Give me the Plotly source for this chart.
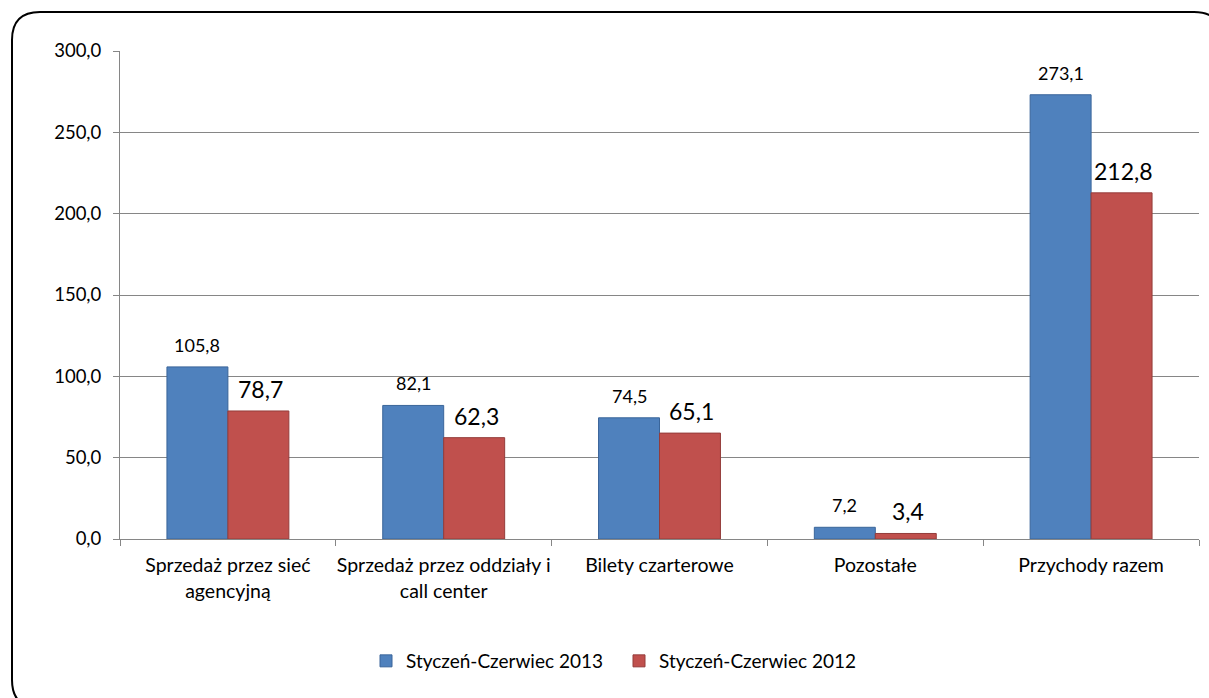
import plotly.graph_objects as go

categories = ["Sprzedaż przez sieć<br>agencyjną", "Sprzedaż przez oddziały i<br>call center",
              "Bilety czarterowe", "Pozostałe", "Przychody razem"]
series_2013 = [105.8, 82.1, 74.5, 7.2, 273.1]
series_2012 = [78.7, 62.3, 65.1, 3.4, 212.8]
name_2013 = "Styczeń-Czerwiec 2013"
name_2012 = "Styczeń-Czerwiec 2012"
y_ticks = [0, 50, 100, 150, 200, 250, 300]

W, H = 1209, 698
ML, MR, MT, MB = 120, 10, 51, 159
PW, PH = W - ML - MR, H - MT - MB
FONT = "Lato, Calibri, sans-serif"

def fmt(v):
    return f"{v:.1f}".replace(".", ",")

fig = go.Figure()
fig.add_trace(go.Bar(x=categories, y=series_2013, name=name_2013,
                     marker=dict(color="#4F81BD", line=dict(color="#3A659A", width=1))))
fig.add_trace(go.Bar(x=categories, y=series_2012, name=name_2012,
                     marker=dict(color="#C0504D", line=dict(color="#943C3A", width=1))))

bargap = 0.435
barw = PW / len(categories) * (1 - bargap) / 2
for c, v in zip(categories, series_2013):
    fig.add_annotation(x=c, y=v, text=fmt(v), showarrow=False, xshift=-barw / 2,
                       yanchor="bottom", yshift=9, font=dict(size=18, color="#000"))
for c, v in zip(categories, series_2012):
    fig.add_annotation(x=c, y=v, text=fmt(v), showarrow=False, xshift=barw / 2 + 2,
                       yanchor="bottom", yshift=6, font=dict(size=23, color="#000"))

# rounded border (paper coords)
def px(xp):
    return (xp - ML) / PW
def py(yp):
    return (H - MB - yp) / PH
x0, y0, x1, y1, r = 12, 12, 1222, 708, 28
path = (f"M {px(x0)},{py(y0 + r)} L {px(x0)},{py(y1 - r)} "
        f"Q {px(x0)},{py(y1)} {px(x0 + r)},{py(y1)} "
        f"L {px(x1 - r)},{py(y1)} Q {px(x1)},{py(y1)} {px(x1)},{py(y1 - r)} "
        f"L {px(x1)},{py(y0 + r)} Q {px(x1)},{py(y0)} {px(x1 - r)},{py(y0)} "
        f"L {px(x0 + r)},{py(y0)} Q {px(x0)},{py(y0)} {px(x0)},{py(y0 + r)} Z")
fig.add_shape(type="path", path=path, xref="paper", yref="paper",
              line=dict(color="#000", width=2), layer="above")

fig.update_layout(
    width=W, height=H,
    margin=dict(l=ML, r=MR, t=MT, b=MB, autoexpand=False),
    paper_bgcolor="white", plot_bgcolor="white",
    separators=", ",
    barmode="group", bargap=bargap, bargroupgap=0,
    font=dict(family=FONT, size=18, color="#000"),
    showlegend=True,
    legend=dict(orientation="h", x=px(366), xanchor="left", y=py(661), yanchor="middle",
                font=dict(size=19), itemwidth=30, traceorder="normal", entrywidth=208),
    xaxis=dict(showline=True, linecolor="#868686", linewidth=1, ticks="outside",
               tickson="boundaries", ticklen=6, tickcolor="#868686", tickangle=0,
               automargin=False,
               tickfont=dict(size=19.5), showgrid=False, ticklabelstandoff=9),
    yaxis=dict(range=[0, 300], tickvals=y_ticks, tickformat=".1f", showgrid=True,
               gridcolor="#868686", gridwidth=1, showline=True, linecolor="#868686",
               ticks="outside", ticklen=6, tickcolor="#868686", zeroline=False,
               automargin=False,
               tickfont=dict(size=18.5), ticklabelstandoff=8),
)
fig.write_html("out.html")
